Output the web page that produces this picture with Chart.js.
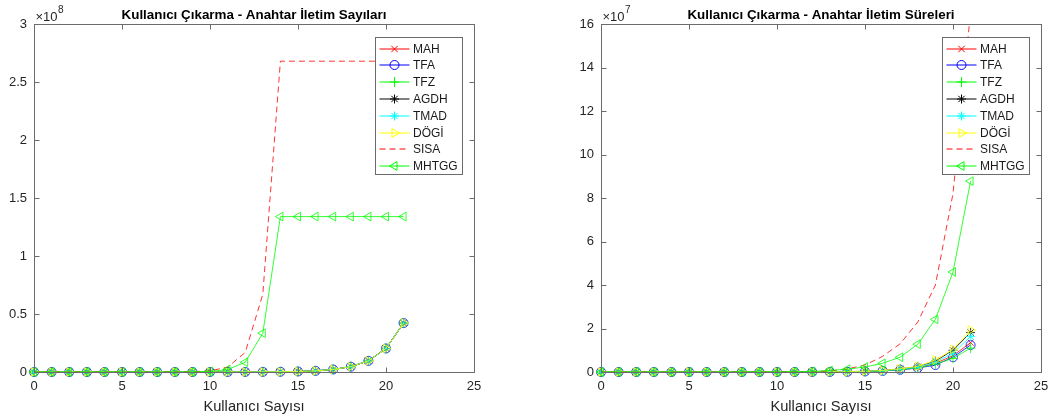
<!DOCTYPE html>
<html lang="tr">
<head>
<meta charset="utf-8">
<title>Kullanıcı Çıkarma</title>
<script src="https://cdn.jsdelivr.net/npm/chart.js@4.4.1/dist/chart.umd.min.js"></script>
<style>
  html, body { margin: 0; padding: 0; background: #fff; }
  #sahne { position: relative; width: 1060px; height: 419px; }
  canvas { position: absolute; top: 0; }
  #sayilar { left: 0; }
  #sureler { left: 530px; }
</style>
</head>
<body>
<div id="sahne">
  <canvas id="sayilar" width="530" height="419"></canvas>
  <canvas id="sureler" width="530" height="419"></canvas>
</div>
<script>
const FONT = '"Liberation Sans", Arial, sans-serif';

// x ekseni: kullanıcı sayısı
const kullanici = [0, 1, 2, 3, 4, 5, 6, 7, 8, 9, 10, 11, 12, 13, 14, 15, 16, 17, 18, 19, 20, 21];
const xTikler = [0, 5, 10, 15, 20, 25];

// Anahtar iletim sayıları (MAH, TFA, TFZ, AGDH, TMAD, DÖGİ üst üste çıkıyor)
const sayiOrtak = [0, 0, 0, 0, 0, 0, 0, 1e3, 2e3, 4e3, 9e3, 2.0e4, 4.5e4, 1.0e5, 2.1e5, 4.6e5, 9.8e5, 2.2e6, 4.6e6, 9.6e6, 2.03e7, 4.22e7];
const sayiSISA = [0, 0, 0, 0, 0, 0, 0, 0, 1e5, 3e5, 1.0e6, 4.2e6, 1.68e7, 6.7e7, 2.68e8, 2.68e8, 2.68e8, 2.68e8, 2.68e8, 2.68e8, 2.68e8, 2.68e8];
const sayiMHTGG = [0, 0, 0, 0, 0, 0, 0, 0, 3e4, 1.3e5, 5e5, 2.1e6, 8.4e6, 3.35e7, 1.34e8, 1.34e8, 1.34e8, 1.34e8, 1.34e8, 1.34e8, 1.34e8, 1.34e8];
const sayiYTikler = [0, 0.5, 1, 1.5, 2, 2.5, 3];      // x 10^8
const sayiYEtiket = ['0', '0.5', '1', '1.5', '2', '2.5', '3'];

// Anahtar iletim süreleri
const sureMAH   = [0, 0, 0, 0, 0, 0, 0, 0, 0, 1e3, 2e3, 5e3, 1.5e4, 4e4, 1e5, 3e5, 6e5, 1.2e6, 2.0e6, 4.0e6, 7.5e6, 1.35e7];
const sureTFA   = [0, 0, 0, 0, 0, 0, 0, 0, 0, 1e3, 2e3, 5e3, 1.5e4, 3e4, 8e4, 2.5e5, 5e5, 1.0e6, 1.8e6, 3.2e6, 6.8e6, 1.24e7];
const sureTFZ   = [0, 0, 0, 0, 0, 0, 0, 0, 0, 1e3, 2e3, 5e3, 1.5e4, 3e4, 9e4, 2.5e5, 5e5, 1.1e6, 1.9e6, 3.6e6, 6.3e6, 1.10e7];
const sureAGDH  = [0, 0, 0, 0, 0, 0, 0, 0, 0, 1e3, 3e3, 7e3, 2e4, 5e4, 1.5e5, 3.5e5, 7e5, 1.4e6, 2.4e6, 5.0e6, 1.0e7, 1.82e7];
const sureTMAD  = [0, 0, 0, 0, 0, 0, 0, 0, 0, 1e3, 3e3, 6e3, 2e4, 5e4, 1.3e5, 3e5, 6e5, 1.3e6, 2.2e6, 4.5e6, 8.6e6, 1.63e7];
const sureDOGI  = [0, 0, 0, 0, 0, 0, 0, 0, 0, 1e3, 3e3, 7e3, 2e4, 6e4, 1.6e5, 3.6e5, 7e5, 1.5e6, 2.6e6, 5.5e6, 1.04e7, 1.93e7];
const sureSISA  = [0, 0, 0, 0, 0, 0, 0, 0, 1e4, 2e4, 5e4, 1e5, 2e5, 5e5, 1.4e6, 3.2e6, 7.2e6, 1.3e7, 2.3e7, 4.0e7, 8.2e7, 1.66e8];
const sureMHTGG = [0, 0, 0, 0, 0, 0, 0, 0, 1e4, 2e4, 5e4, 1e5, 3e5, 7e5, 1.3e6, 2.3e6, 4.0e6, 6.8e6, 1.28e7, 2.42e7, 4.6e7, 8.78e7];
const sureYTikler = [0, 2, 4, 6, 8, 10, 12, 14, 16];  // x 10^7
const sureYEtiket = ['0', '2', '4', '6', '8', '10', '12', '14', '16'];

// çizgi ve işaret stilleri
const stiller = {
  'MAH':   { renk: '#ff0000', nokta: 'crossRot', r: 4.5 },
  'TFA':   { renk: '#0000ff', nokta: 'circle', r: 4.5 },
  'TFZ':   { renk: '#00ff00', nokta: 'cross', r: 5 },
  'AGDH':  { renk: '#000000', nokta: 'star', r: 4.5 },
  'TMAD':  { renk: '#00ffff', nokta: 'star', r: 4.5 },
  'DÖGİ':  { renk: '#ffff00', nokta: 'triangle', r: 5, aci: 90 },
  'SISA':  { renk: '#ff0000', kesik: true },
  'MHTGG': { renk: '#00ff00', nokta: 'triangle', r: 5, aci: 270 }
};
const CIZGI = 0.8;

function seri(ad, degerler, sira) {
  const s = stiller[ad];
  return {
    label: ad,
    data: kullanici.map((k, i) => ({ x: k, y: degerler[i] })),
    borderColor: s.renk,
    backgroundColor: 'rgba(0,0,0,0)',
    borderWidth: CIZGI,
    borderDash: s.kesik ? [6, 4] : [],
    pointStyle: s.nokta || 'circle',
    pointRadius: s.nokta ? s.r : 0,
    pointRotation: s.aci || 0,
    pointBorderColor: s.renk,
    pointBackgroundColor: 'rgba(0,0,0,0)',
    pointBorderWidth: CIZGI,
    tension: 0,
    order: 20 - sira,            // sonra eklenen seri üstte kalsın
    clip: { left: 10, right: 10, top: 0, bottom: 10 }
  };
}

// kutu, içe dönük tikler, üs etiketi ve lejant
const matlabEksen = {
  id: 'matlabEksen',
  afterDraw(chart, args, opts) {
    const { ctx, chartArea: a, scales: { x, y } } = chart;
    const L = Math.round(a.left) + 0.5, R = Math.round(a.right) + 0.5;
    const T = Math.round(a.top) + 0.5, B = Math.round(a.bottom) + 0.5;
    ctx.save();
    ctx.strokeStyle = '#6b6b6b';
    ctx.lineWidth = 1;
    ctx.setLineDash([]);
    ctx.strokeRect(L, T, R - L, B - T);
    ctx.beginPath();
    x.ticks.forEach(t => {
      const p = Math.round(x.getPixelForValue(t.value)) + 0.5;
      if (p <= L + 1 || p >= R - 1) return;
      ctx.moveTo(p, B); ctx.lineTo(p, B - 5);
      ctx.moveTo(p, T); ctx.lineTo(p, T + 5);
    });
    y.ticks.forEach(t => {
      const p = Math.round(y.getPixelForValue(t.value)) + 0.5;
      if (p <= T + 1 || p >= B - 1) return;
      ctx.moveTo(L, p); ctx.lineTo(L + 5, p);
      ctx.moveTo(R, p); ctx.lineTo(R - 5, p);
    });
    ctx.stroke();

    // x10^n
    ctx.fillStyle = '#262626';
    ctx.textBaseline = 'alphabetic';
    ctx.textAlign = 'left';
    ctx.font = '13px ' + FONT;
    ctx.fillText('\u00d710', L + 1, 21);
    const w = ctx.measureText('\u00d710').width;
    ctx.font = '10px ' + FONT;
    ctx.fillText(opts.us, L + 1 + w + 0.5, 13);

    // lejant
    const kw = 87, kh = 137;
    const kx = Math.round(a.right - 12 - kw) + 0.5, ky = Math.round(a.top + 13) + 0.5;
    ctx.fillStyle = '#ffffff';
    ctx.fillRect(kx, ky, kw, kh);
    ctx.strokeStyle = '#6b6b6b';
    ctx.lineWidth = 1;
    ctx.strokeRect(kx, ky, kw, kh);
    ctx.font = '12px ' + FONT;
    ctx.textBaseline = 'middle';
    chart.data.datasets.forEach((ds, i) => {
      const s = stiller[ds.label];
      const yy = Math.round(ky + 11 + i * 16.8);
      ctx.strokeStyle = s.renk;
      ctx.lineWidth = 1;
      ctx.setLineDash(s.kesik ? [6, 4] : []);
      ctx.beginPath();
      ctx.moveTo(kx + 4, yy);
      ctx.lineTo(kx + 34, yy);
      ctx.stroke();
      ctx.setLineDash([]);
      if (s.nokta) {
        ctx.fillStyle = 'rgba(0,0,0,0)';
        ctx.strokeStyle = s.renk;
        Chart.helpers.drawPoint(ctx, {
          pointStyle: s.nokta, radius: s.r, rotation: s.aci || 0, borderWidth: 1
        }, kx + 19, yy);
      }
      ctx.fillStyle = '#1a1a1a';
      ctx.fillText(ds.label, kx + 37.5, yy + 0.5);
    });
    ctx.restore();
  }
};

function grafik(id, baslik, datasets, yTikler, yEtiket, bolen, us, pad) {
  return new Chart(document.getElementById(id), {
    type: 'line',
    data: { datasets },
    plugins: [matlabEksen],
    options: {
      responsive: false,
      animation: false,
      devicePixelRatio: 1,
      events: [],
      layout: { padding: { left: pad.left, right: pad.right, top: 0, bottom: 0 } },
      plugins: {
        legend: { display: false },
        tooltip: { enabled: false },
        title: {
          display: true, text: baslik, fullSize: false, color: '#000',
          font: { family: FONT, size: 13.4, weight: 'bold' },
          padding: { top: 7, bottom: 1 }
        },
        matlabEksen: { us }
      },
      scales: {
        x: {
          type: 'linear', min: 0, max: 25,
          afterBuildTicks: s => { s.ticks = xTikler.map(v => ({ value: v })); },
          afterFit: s => { s.height = 47; },
          grid: { display: false, drawTicks: false },
          border: { display: false },
          ticks: { padding: 7, color: '#262626', font: { family: FONT, size: 13 }, maxRotation: 0, autoSkip: false },
          title: {
            display: true, text: 'Kullanıcı Sayısı', color: '#262626',
            font: { family: FONT, size: 14.7 }, padding: { top: 0, bottom: 3 }
          }
        },
        y: {
          type: 'linear', min: 0, max: yTikler[yTikler.length - 1] * bolen,
          afterBuildTicks: s => { s.ticks = yTikler.map(v => ({ value: v * bolen })); },
          afterFit: s => { s.width = 34; },
          grid: { display: false, drawTicks: false },
          border: { display: false },
          ticks: {
            padding: 7, color: '#262626', font: { family: FONT, size: 13 }, autoSkip: false,
            callback: (v, i) => yEtiket[i]
          }
        }
      }
    }
  });
}

const sayiSerileri = [
  seri('MAH', sayiOrtak, 0), seri('TFA', sayiOrtak, 1), seri('TFZ', sayiOrtak, 2),
  seri('AGDH', sayiOrtak, 3), seri('TMAD', sayiOrtak, 4), seri('DÖGİ', sayiOrtak, 5),
  seri('SISA', sayiSISA, 6), seri('MHTGG', sayiMHTGG, 7)
];
const sureSerileri = [
  seri('MAH', sureMAH, 0), seri('TFA', sureTFA, 1), seri('TFZ', sureTFZ, 2),
  seri('AGDH', sureAGDH, 3), seri('TMAD', sureTMAD, 4), seri('DÖGİ', sureDOGI, 5),
  seri('SISA', sureSISA, 6), seri('MHTGG', sureMHTGG, 7)
];

grafik('sayilar', 'Kullanıcı Çıkarma - Anahtar İletim Sayıları', sayiSerileri,
  sayiYTikler, sayiYEtiket, 1e8, '8', { left: 0, right: 56 });
grafik('sureler', 'Kullanıcı Çıkarma - Anahtar İletim Süreleri', sureSerileri,
  sureYTikler, sureYEtiket, 1e7, '7', { left: 37, right: 19 });
</script>
</body>
</html>
